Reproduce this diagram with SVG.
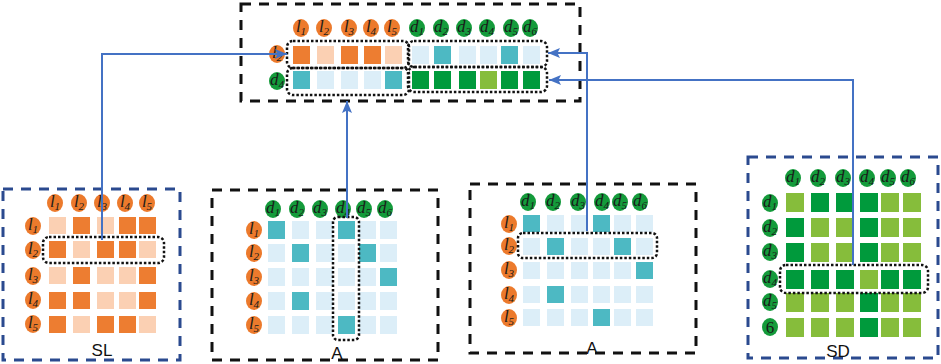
<svg xmlns="http://www.w3.org/2000/svg" width="941" height="364" viewBox="0 0 941 364">
<defs>
<style>
.bk{fill:none;stroke:#111;stroke-width:3;stroke-dasharray:10 8}
.bl{fill:none;stroke:#2B4A8F;stroke-width:3;stroke-dasharray:10 8}
.dot{fill:none;stroke:#111;stroke-width:2.5;stroke-dasharray:2.5 2}
.oc{fill:#EC7A2C}
.gc{fill:#149B3B}
.od{fill:#ED7D31}
.ol{fill:#FBD0B3}
.t{fill:#4DB9C3}
.lb{fill:#DCEEF8}
.gd{fill:#009A3C}
.gl{fill:#86BD3B}
.lt{font-family:"Liberation Serif",serif;font-style:italic;font-size:17px;fill:#1a1a1a;text-anchor:middle}
.sb{font-size:11px}
.cap{font-family:"Liberation Sans",Arial,sans-serif;font-size:17px;fill:#111;text-anchor:middle}
.cn{fill:none;stroke:#4472C4;stroke-width:2}
</style>
<marker id="ah" markerUnits="userSpaceOnUse" markerWidth="12" markerHeight="10" refX="12" refY="5" orient="auto">
<path d="M0,0 L12,5 L0,10 L2.5,5 z" fill="#4472C4"/>
</marker>
</defs>
<rect width="941" height="364" fill="#fff"/>

<g id="fused">
<rect class="bk" x="241" y="4" width="339" height="97"/>
<g>
<ellipse class="oc" cx="301" cy="28" rx="8" ry="9"/><text class="lt" x="301" y="32">l<tspan class="sb" dy="3">1</tspan></text>
<ellipse class="oc" cx="324" cy="28" rx="8" ry="9"/><text class="lt" x="324" y="32">l<tspan class="sb" dy="3">2</tspan></text>
<ellipse class="oc" cx="349" cy="28" rx="8" ry="9"/><text class="lt" x="349" y="32">l<tspan class="sb" dy="3">3</tspan></text>
<ellipse class="oc" cx="371" cy="28" rx="8" ry="9"/><text class="lt" x="371" y="32">l<tspan class="sb" dy="3">4</tspan></text>
<ellipse class="oc" cx="392" cy="28" rx="8" ry="9"/><text class="lt" x="392" y="32">l<tspan class="sb" dy="3">5</tspan></text>
<ellipse class="gc" cx="417" cy="28" rx="8" ry="9"/><text class="lt" x="417" y="32">d<tspan class="sb" dy="3">1</tspan></text>
<ellipse class="gc" cx="441" cy="28" rx="8" ry="9"/><text class="lt" x="441" y="32">d<tspan class="sb" dy="3">2</tspan></text>
<ellipse class="gc" cx="464" cy="28" rx="8" ry="9"/><text class="lt" x="464" y="32">d<tspan class="sb" dy="3">3</tspan></text>
<ellipse class="gc" cx="487" cy="28" rx="8" ry="9"/><text class="lt" x="487" y="32">d<tspan class="sb" dy="3">4</tspan></text>
<ellipse class="gc" cx="511" cy="28" rx="8" ry="9"/><text class="lt" x="511" y="32">d<tspan class="sb" dy="3">5</tspan></text>
<ellipse class="gc" cx="530" cy="28" rx="8" ry="9"/><text class="lt" x="530" y="32">d<tspan class="sb" dy="3">6</tspan></text>
<ellipse class="oc" cx="277" cy="54" rx="8" ry="9"/><text class="lt" x="277" y="58">l<tspan class="sb" dy="3">2</tspan></text>
<ellipse class="gc" cx="277" cy="81" rx="8" ry="9"/><text class="lt" x="277" y="85">d<tspan class="sb" dy="3">4</tspan></text>
</g>
<g>
<rect class="od" x="293" y="46" width="17" height="18"/>
<rect class="ol" x="317" y="46" width="17" height="18"/>
<rect class="od" x="341" y="46" width="17" height="18"/>
<rect class="od" x="364" y="46" width="17" height="18"/>
<rect class="ol" x="385" y="46" width="17" height="18"/>
<rect class="lb" x="412" y="46" width="17" height="18"/>
<rect class="t" x="434" y="46" width="17" height="18"/>
<rect class="lb" x="459" y="46" width="17" height="18"/>
<rect class="lb" x="480" y="46" width="17" height="18"/>
<rect class="t" x="501" y="46" width="17" height="18"/>
<rect class="lb" x="523" y="46" width="17" height="18"/>
<rect class="t" x="293" y="71" width="17" height="18"/>
<rect class="lb" x="317" y="71" width="17" height="18"/>
<rect class="lb" x="341" y="71" width="17" height="18"/>
<rect class="lb" x="364" y="71" width="17" height="18"/>
<rect class="t" x="385" y="71" width="17" height="18"/>
<rect class="gd" x="412" y="71" width="17" height="18"/>
<rect class="gd" x="434" y="71" width="17" height="18"/>
<rect class="gd" x="459" y="71" width="17" height="18"/>
<rect class="gl" x="480" y="71" width="17" height="18"/>
<rect class="gd" x="501" y="71" width="17" height="18"/>
<rect class="gd" x="523" y="71" width="17" height="18"/>
</g>
<rect class="dot" x="287" y="41" width="122" height="27" rx="6"/>
<rect class="dot" x="287" y="68" width="122" height="27" rx="6"/>
<rect class="dot" x="408" y="41" width="139" height="26" rx="6"/>
<rect class="dot" x="408" y="67" width="139" height="25" rx="6"/>
</g>

<g id="SL">
<rect class="bl" x="3" y="189" width="177" height="171"/>
<ellipse class="oc" cx="55" cy="203" rx="8" ry="9"/><text class="lt" x="55" y="207">l<tspan class="sb" dy="3">1</tspan></text>
<ellipse class="oc" cx="79" cy="203" rx="8" ry="9"/><text class="lt" x="79" y="207">l<tspan class="sb" dy="3">2</tspan></text>
<ellipse class="oc" cx="102" cy="203" rx="8" ry="9"/><text class="lt" x="102" y="207">l<tspan class="sb" dy="3">3</tspan></text>
<ellipse class="oc" cx="125" cy="203" rx="8" ry="9"/><text class="lt" x="125" y="207">l<tspan class="sb" dy="3">4</tspan></text>
<ellipse class="oc" cx="147" cy="203" rx="8" ry="9"/><text class="lt" x="147" y="207">l<tspan class="sb" dy="3">5</tspan></text>
<ellipse class="oc" cx="33" cy="226" rx="8" ry="9"/><text class="lt" x="33" y="230">l<tspan class="sb" dy="3">1</tspan></text>
<ellipse class="oc" cx="33" cy="250" rx="8" ry="9"/><text class="lt" x="33" y="254">l<tspan class="sb" dy="3">2</tspan></text>
<ellipse class="oc" cx="33" cy="276" rx="8" ry="9"/><text class="lt" x="33" y="280">l<tspan class="sb" dy="3">3</tspan></text>
<ellipse class="oc" cx="33" cy="300" rx="8" ry="9"/><text class="lt" x="33" y="304">l<tspan class="sb" dy="3">4</tspan></text>
<ellipse class="oc" cx="33" cy="324" rx="8" ry="9"/><text class="lt" x="33" y="328">l<tspan class="sb" dy="3">5</tspan></text>
<rect class="ol" x="49" y="217" width="17" height="17"/><rect class="od" x="73" y="217" width="17" height="17"/><rect class="ol" x="97" y="217" width="17" height="17"/><rect class="od" x="119" y="217" width="17" height="17"/><rect class="od" x="139" y="217" width="17" height="17"/>
<rect class="od" x="49" y="241" width="17" height="17"/><rect class="ol" x="73" y="241" width="17" height="17"/><rect class="od" x="97" y="241" width="17" height="17"/><rect class="od" x="119" y="241" width="17" height="17"/><rect class="ol" x="139" y="241" width="17" height="17"/>
<rect class="ol" x="49" y="267" width="17" height="17"/><rect class="od" x="73" y="267" width="17" height="17"/><rect class="ol" x="97" y="267" width="17" height="17"/><rect class="ol" x="119" y="267" width="17" height="17"/><rect class="od" x="139" y="267" width="17" height="17"/>
<rect class="od" x="49" y="292" width="17" height="17"/><rect class="od" x="73" y="292" width="17" height="17"/><rect class="ol" x="97" y="292" width="17" height="17"/><rect class="ol" x="119" y="292" width="17" height="17"/><rect class="od" x="139" y="292" width="17" height="17"/>
<rect class="od" x="49" y="316" width="17" height="17"/><rect class="ol" x="73" y="316" width="17" height="17"/><rect class="od" x="97" y="316" width="17" height="17"/><rect class="od" x="119" y="316" width="17" height="17"/><rect class="ol" x="139" y="316" width="17" height="17"/>
<rect class="dot" x="43" y="237" width="121" height="26" rx="6"/>
<text class="cap" x="102" y="356">SL</text>
</g>

<g id="A1">
<rect class="bk" x="212" y="190" width="226" height="170"/>
<ellipse class="gc" cx="273" cy="209" rx="8" ry="9"/><text class="lt" x="273" y="213">d<tspan class="sb" dy="3">1</tspan></text>
<ellipse class="gc" cx="297" cy="209" rx="8" ry="9"/><text class="lt" x="297" y="213">d<tspan class="sb" dy="3">2</tspan></text>
<ellipse class="gc" cx="320" cy="209" rx="8" ry="9"/><text class="lt" x="320" y="213">d<tspan class="sb" dy="3">3</tspan></text>
<ellipse class="gc" cx="343" cy="209" rx="8" ry="9"/><text class="lt" x="343" y="213">d<tspan class="sb" dy="3">4</tspan></text>
<ellipse class="gc" cx="364" cy="209" rx="8" ry="9"/><text class="lt" x="364" y="213">d<tspan class="sb" dy="3">5</tspan></text>
<ellipse class="gc" cx="385" cy="209" rx="8" ry="9"/><text class="lt" x="385" y="213">d<tspan class="sb" dy="3">6</tspan></text>
<ellipse class="oc" cx="254" cy="230" rx="8" ry="9"/><text class="lt" x="254" y="234">l<tspan class="sb" dy="3">1</tspan></text>
<ellipse class="oc" cx="254" cy="253" rx="8" ry="9"/><text class="lt" x="254" y="257">l<tspan class="sb" dy="3">2</tspan></text>
<ellipse class="oc" cx="254" cy="277" rx="8" ry="9"/><text class="lt" x="254" y="281">l<tspan class="sb" dy="3">3</tspan></text>
<ellipse class="oc" cx="254" cy="301" rx="8" ry="9"/><text class="lt" x="254" y="305">l<tspan class="sb" dy="3">4</tspan></text>
<ellipse class="oc" cx="254" cy="325" rx="8" ry="9"/><text class="lt" x="254" y="329">l<tspan class="sb" dy="3">5</tspan></text>
<rect class="t" x="268" y="221" width="17" height="18"/><rect class="lb" x="292" y="221" width="17" height="18"/><rect class="lb" x="316" y="221" width="17" height="18"/><rect class="t" x="338" y="221" width="17" height="18"/><rect class="lb" x="359" y="221" width="17" height="18"/><rect class="lb" x="380" y="221" width="17" height="18"/>
<rect class="lb" x="268" y="244" width="17" height="18"/><rect class="t" x="292" y="244" width="17" height="18"/><rect class="lb" x="316" y="244" width="17" height="18"/><rect class="lb" x="338" y="244" width="17" height="18"/><rect class="t" x="359" y="244" width="17" height="18"/><rect class="lb" x="380" y="244" width="17" height="18"/>
<rect class="lb" x="268" y="268" width="17" height="18"/><rect class="lb" x="292" y="268" width="17" height="18"/><rect class="lb" x="316" y="268" width="17" height="18"/><rect class="lb" x="338" y="268" width="17" height="18"/><rect class="lb" x="359" y="268" width="17" height="18"/><rect class="t" x="380" y="268" width="17" height="18"/>
<rect class="lb" x="268" y="292" width="17" height="18"/><rect class="t" x="292" y="292" width="17" height="18"/><rect class="lb" x="316" y="292" width="17" height="18"/><rect class="lb" x="338" y="292" width="17" height="18"/><rect class="lb" x="359" y="292" width="17" height="18"/><rect class="lb" x="380" y="292" width="17" height="18"/>
<rect class="lb" x="268" y="316" width="17" height="18"/><rect class="lb" x="292" y="316" width="17" height="18"/><rect class="lb" x="316" y="316" width="17" height="18"/><rect class="t" x="338" y="316" width="17" height="18"/><rect class="lb" x="359" y="316" width="17" height="18"/><rect class="lb" x="380" y="316" width="17" height="18"/>
<rect class="dot" x="333" y="217" width="26" height="123" rx="5"/>
<text class="cap" x="337" y="359">A</text>
</g>

<g id="A2">
<rect class="bk" x="470" y="184" width="226" height="169"/>
<ellipse class="gc" cx="528" cy="202" rx="8" ry="9"/><text class="lt" x="528" y="206">d<tspan class="sb" dy="3">1</tspan></text>
<ellipse class="gc" cx="553" cy="202" rx="8" ry="9"/><text class="lt" x="553" y="206">d<tspan class="sb" dy="3">2</tspan></text>
<ellipse class="gc" cx="578" cy="202" rx="8" ry="9"/><text class="lt" x="578" y="206">d<tspan class="sb" dy="3">3</tspan></text>
<ellipse class="gc" cx="602" cy="202" rx="8" ry="9"/><text class="lt" x="602" y="206">d<tspan class="sb" dy="3">4</tspan></text>
<ellipse class="gc" cx="620" cy="202" rx="8" ry="9"/><text class="lt" x="620" y="206">d<tspan class="sb" dy="3">5</tspan></text>
<ellipse class="gc" cx="640" cy="202" rx="8" ry="9"/><text class="lt" x="640" y="206">d<tspan class="sb" dy="3">6</tspan></text>
<ellipse class="oc" cx="509" cy="224" rx="8" ry="9"/><text class="lt" x="509" y="228">l<tspan class="sb" dy="3">1</tspan></text>
<ellipse class="oc" cx="509" cy="246" rx="8" ry="9"/><text class="lt" x="509" y="250">l<tspan class="sb" dy="3">2</tspan></text>
<ellipse class="oc" cx="509" cy="270" rx="8" ry="9"/><text class="lt" x="509" y="274">l<tspan class="sb" dy="3">3</tspan></text>
<ellipse class="oc" cx="509" cy="295" rx="8" ry="9"/><text class="lt" x="509" y="299">l<tspan class="sb" dy="3">4</tspan></text>
<ellipse class="oc" cx="509" cy="318" rx="8" ry="9"/><text class="lt" x="509" y="322">l<tspan class="sb" dy="3">5</tspan></text>
<rect class="t" x="523" y="215" width="17" height="17"/><rect class="lb" x="547" y="215" width="17" height="17"/><rect class="lb" x="571" y="215" width="17" height="17"/><rect class="t" x="593" y="215" width="17" height="17"/><rect class="lb" x="614" y="215" width="17" height="17"/><rect class="lb" x="636" y="215" width="17" height="17"/>
<rect class="lb" x="523" y="238" width="17" height="17"/><rect class="t" x="547" y="238" width="17" height="17"/><rect class="lb" x="571" y="238" width="17" height="17"/><rect class="lb" x="593" y="238" width="17" height="17"/><rect class="t" x="614" y="238" width="17" height="17"/><rect class="lb" x="636" y="238" width="17" height="17"/>
<rect class="lb" x="523" y="262" width="17" height="17"/><rect class="lb" x="547" y="262" width="17" height="17"/><rect class="lb" x="571" y="262" width="17" height="17"/><rect class="lb" x="593" y="262" width="17" height="17"/><rect class="lb" x="614" y="262" width="17" height="17"/><rect class="t" x="636" y="262" width="17" height="17"/>
<rect class="lb" x="523" y="286" width="17" height="17"/><rect class="t" x="547" y="286" width="17" height="17"/><rect class="lb" x="571" y="286" width="17" height="17"/><rect class="lb" x="593" y="286" width="17" height="17"/><rect class="lb" x="614" y="286" width="17" height="17"/><rect class="lb" x="636" y="286" width="17" height="17"/>
<rect class="lb" x="523" y="309" width="17" height="17"/><rect class="lb" x="547" y="309" width="17" height="17"/><rect class="lb" x="571" y="309" width="17" height="17"/><rect class="t" x="593" y="309" width="17" height="17"/><rect class="lb" x="614" y="309" width="17" height="17"/><rect class="lb" x="636" y="309" width="17" height="17"/>
<rect class="dot" x="518" y="233" width="139" height="25" rx="5"/>
<text class="cap" x="592" y="354">A</text>
</g>

<g id="SD">
<rect class="bl" x="748" y="157" width="190" height="201"/>
<ellipse class="gc" cx="793" cy="178" rx="8" ry="9"/><text class="lt" x="793" y="182">d<tspan class="sb" dy="3">1</tspan></text>
<ellipse class="gc" cx="818" cy="178" rx="8" ry="9"/><text class="lt" x="818" y="182">d<tspan class="sb" dy="3">2</tspan></text>
<ellipse class="gc" cx="843" cy="178" rx="8" ry="9"/><text class="lt" x="843" y="182">d<tspan class="sb" dy="3">3</tspan></text>
<ellipse class="gc" cx="867" cy="178" rx="8" ry="9"/><text class="lt" x="867" y="182">d<tspan class="sb" dy="3">4</tspan></text>
<ellipse class="gc" cx="888" cy="178" rx="8" ry="9"/><text class="lt" x="888" y="182">d<tspan class="sb" dy="3">5</tspan></text>
<ellipse class="gc" cx="908" cy="178" rx="8" ry="9"/><text class="lt" x="908" y="182">d<tspan class="sb" dy="3">6</tspan></text>
<ellipse class="gc" cx="770" cy="203" rx="8" ry="9"/><text class="lt" x="770" y="207">d<tspan class="sb" dy="3">1</tspan></text>
<ellipse class="gc" cx="770" cy="228" rx="8" ry="9"/><text class="lt" x="770" y="232">d<tspan class="sb" dy="3">2</tspan></text>
<ellipse class="gc" cx="770" cy="252" rx="8" ry="9"/><text class="lt" x="770" y="256">d<tspan class="sb" dy="3">3</tspan></text>
<ellipse class="gc" cx="770" cy="279" rx="8" ry="9"/><text class="lt" x="770" y="283">d<tspan class="sb" dy="3">4</tspan></text>
<ellipse class="gc" cx="770" cy="302" rx="8" ry="9"/><text class="lt" x="770" y="306">d<tspan class="sb" dy="3">5</tspan></text>
<ellipse class="gc" cx="770" cy="327" rx="8" ry="9"/><text class="lt" x="770" y="333" style="font-style:normal">6</text>
<rect class="gl" x="786" y="193" width="18" height="19"/><rect class="gd" x="811" y="193" width="18" height="19"/><rect class="gd" x="836" y="193" width="18" height="19"/><rect class="gd" x="860" y="193" width="18" height="19"/><rect class="gl" x="881" y="193" width="18" height="19"/><rect class="gl" x="903" y="193" width="18" height="19"/>
<rect class="gd" x="786" y="218" width="18" height="19"/><rect class="gl" x="811" y="218" width="18" height="19"/><rect class="gl" x="836" y="218" width="18" height="19"/><rect class="gd" x="860" y="218" width="18" height="19"/><rect class="gl" x="881" y="218" width="18" height="19"/><rect class="gl" x="903" y="218" width="18" height="19"/>
<rect class="gd" x="786" y="243" width="18" height="19"/><rect class="gl" x="811" y="243" width="18" height="19"/><rect class="gl" x="836" y="243" width="18" height="19"/><rect class="gd" x="860" y="243" width="18" height="19"/><rect class="gl" x="881" y="243" width="18" height="19"/><rect class="gl" x="903" y="243" width="18" height="19"/>
<rect class="gd" x="786" y="270" width="18" height="19"/><rect class="gd" x="811" y="270" width="18" height="19"/><rect class="gd" x="836" y="270" width="18" height="19"/><rect class="gl" x="860" y="270" width="18" height="19"/><rect class="gd" x="881" y="270" width="18" height="19"/><rect class="gd" x="903" y="270" width="18" height="19"/>
<rect class="gl" x="786" y="293" width="18" height="19"/><rect class="gl" x="811" y="293" width="18" height="19"/><rect class="gl" x="836" y="293" width="18" height="19"/><rect class="gd" x="860" y="293" width="18" height="19"/><rect class="gl" x="881" y="293" width="18" height="19"/><rect class="gl" x="903" y="293" width="18" height="19"/>
<rect class="gl" x="786" y="318" width="18" height="19"/><rect class="gl" x="811" y="318" width="18" height="19"/><rect class="gl" x="836" y="318" width="18" height="19"/><rect class="gd" x="860" y="318" width="18" height="19"/><rect class="gl" x="881" y="318" width="18" height="19"/><rect class="gl" x="903" y="318" width="18" height="19"/>
<rect class="dot" x="780" y="265" width="148" height="28" rx="6"/>
<text class="cap" x="838" y="357">SD</text>
</g>

<g id="connectors">
<path class="cn" d="M102,240 V54 H287" marker-end="url(#ah)"/>
<path class="cn" d="M347,218 V101" marker-end="url(#ah)"/>
<path class="cn" d="M587,231 V53 H548" marker-end="url(#ah)"/>
<path class="cn" d="M853,265 V80 H549" marker-end="url(#ah)"/>
</g>
</svg>
